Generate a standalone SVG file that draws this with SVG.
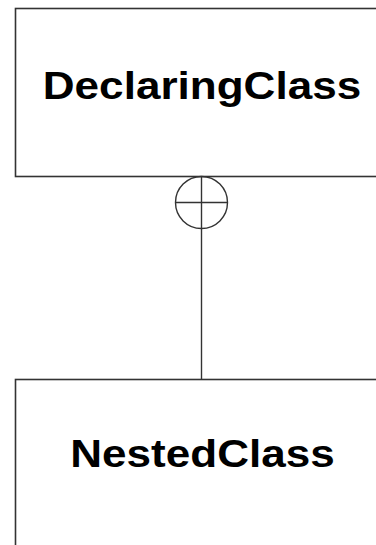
<svg xmlns="http://www.w3.org/2000/svg" width="376" height="545" viewBox="0 0 376 545">
<style>
.box{fill:#fff;stroke:#333;stroke-width:1.6}
.lbl{font-family:"Liberation Sans",Arial,sans-serif;font-weight:bold;font-size:39px;fill:#000;text-anchor:middle}
.conn{fill:none;stroke:#333;stroke-width:1.4}
</style>
<rect width="376" height="545" fill="#fff"/>
<g id="DeclaringClass">
<rect class="box" x="15.5" y="8.5" width="380" height="168"/>
<text class="lbl" transform="translate(202,99) scale(1.13,1)">DeclaringClass</text>
</g>
<g id="NestedClass">
<rect class="box" x="15.5" y="379.5" width="380" height="200"/>
<text class="lbl" transform="translate(202.5,466.7) scale(1.13,1)">NestedClass</text>
</g>
<g id="connectors">
<line class="conn" x1="201.5" y1="176.5" x2="201.5" y2="379.5"/>
<circle class="conn" cx="201.5" cy="202.5" r="26"/>
<line class="conn" x1="175.5" y1="202.5" x2="227.5" y2="202.5"/>
</g>
</svg>
